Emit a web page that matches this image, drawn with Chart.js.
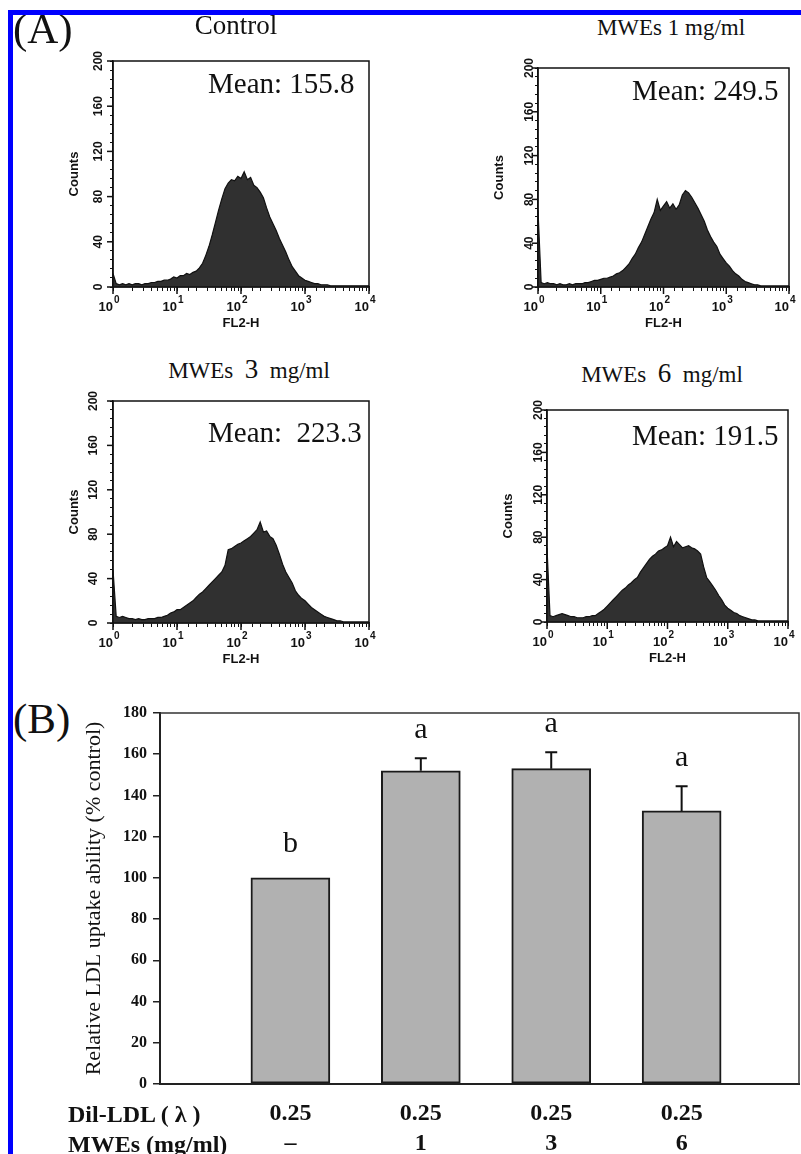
<!DOCTYPE html>
<html>
<head>
<meta charset="utf-8">
<script src="https://cdn.jsdelivr.net/npm/chart.js@4.4.1/dist/chart.umd.min.js"></script>
<style>
  html, body { margin: 0; padding: 0; background: #fff; }
  body { position: relative; width: 801px; height: 1154px; overflow: hidden; color: #111; }
  canvas { position: absolute; }
  .txt { position: absolute; white-space: pre; line-height: 1; font-family: "Liberation Serif", "Times New Roman", serif; }
  .ctr { text-align: center; }
  .bold { font-weight: bold; }
  .mask { position: absolute; left: 0; top: 0; width: 801px; height: 10px; background: #fff; z-index: 5; }
  .blue { position: absolute; background: #0000fe; z-index: 6; }
</style>
</head>
<body>
<canvas id="h0"></canvas>
<canvas id="h1"></canvas>
<canvas id="h2"></canvas>
<canvas id="h3"></canvas>
<canvas id="barB"></canvas>

<div class="txt" style="left:13px; top:7px; font-size:43px;">(A)</div>
<div class="txt" style="left:13px; top:697px; font-size:43px;">(B)</div>

<div class="txt ctr" style="left:136px; width:200px; top:12px; font-size:27px;">Control</div>
<div class="txt ctr" style="left:571px; width:200px; top:16px; font-size:23px; line-height:23px;">MWEs 1 mg/ml</div>
<div class="txt ctr" style="left:149px; width:200px; top:358px; font-size:23px; line-height:23px;">MWEs  <span style="font-size:27px;">3</span>  mg/ml</div>
<div class="txt ctr" style="left:562px; width:200px; top:362px; font-size:23px; line-height:23px;">MWEs  <span style="font-size:27px;">6</span>  mg/ml</div>

<div class="txt" id="m0" style="left:208px; top:69px; font-size:29px;"></div>
<div class="txt" id="m1" style="left:632px; top:76px; font-size:29px;"></div>
<div class="txt" id="m2" style="left:208px; top:418px; font-size:29px;"></div>
<div class="txt" id="m3" style="left:632px; top:421px; font-size:29px;"></div>

<div class="txt bold" style="left:68px; top:1102px; font-size:24px;">Dil-LDL ( λ )</div>
<div class="txt bold" style="left:68px; top:1132px; font-size:24px;">MWEs (mg/ml)</div>

<div class="mask"></div>
<div class="blue" style="left:8px; top:10px; width:793px; height:5px;"></div>
<div class="blue" style="left:8px; top:10px; width:5px; height:1144px;"></div>

<script>
// ---- panel A : flow cytometry histograms (FL2-H, log decades) ----
const fl2Decades = [
  0.00, 0.05, 0.10, 0.15, 0.20, 0.25, 0.30, 0.35, 0.40, 0.45,
  0.50, 0.55, 0.60, 0.65, 0.70, 0.75, 0.80, 0.85, 0.90, 0.95,
  1.00, 1.05, 1.10, 1.15, 1.20, 1.25, 1.30, 1.35, 1.40, 1.45,
  1.50, 1.55, 1.60, 1.65, 1.70, 1.75, 1.80, 1.85, 1.90, 1.95,
  2.00, 2.05, 2.10, 2.15, 2.20, 2.25, 2.30, 2.35, 2.40, 2.45,
  2.50, 2.55, 2.60, 2.65, 2.70, 2.75, 2.80, 2.85, 2.90, 2.95,
  3.00, 3.05, 3.10, 3.15, 3.20, 3.25, 3.30, 3.35, 3.40, 3.45,
  3.50, 3.55, 3.60, 3.65, 3.70, 3.75, 3.80, 3.85, 3.90, 3.95,
  4.00
];

const countsControl = [
  12, 3, 2, 3, 2, 3, 2, 3, 3, 2,
  3, 3, 4, 4, 5, 5, 6, 6, 7, 9,
  8, 10, 10, 12, 11, 13, 14, 17, 21, 28,
  36, 46, 57, 68, 78, 87, 92, 95, 94, 98,
  96, 102, 95, 97, 90, 88, 84, 79, 70, 62,
  56, 50, 43, 37, 31, 24, 18, 14, 10, 8,
  6, 5, 4, 3, 3, 2, 2, 2, 1, 1,
  1, 1, 1, 1, 1, 1, 1, 1, 1, 1,
  1
];

const countsMwes1 = [
  70, 4, 3, 4, 3, 3, 2, 3, 2, 2,
  3, 2, 3, 3, 3, 4, 4, 5, 6, 6,
  7, 8, 8, 9, 10, 12, 13, 15, 18, 21,
  26, 30, 36, 41, 48, 55, 62, 68, 80, 70,
  74, 78, 72, 76, 71, 75, 84, 88, 86, 82,
  77, 72, 66, 60, 52, 46, 41, 37, 30, 26,
  22, 19, 15, 12, 10, 7, 5, 4, 3, 2,
  2, 1, 1, 1, 1, 1, 1, 1, 1, 1,
  1
];

const countsMwes3 = [
  48, 6, 5, 6, 5, 4, 4, 3, 4, 3,
  3, 4, 4, 4, 5, 5, 6, 7, 9, 10,
  12, 12, 14, 16, 18, 20, 23, 26, 28, 31,
  34, 37, 40, 43, 46, 52, 66, 67, 69, 71,
  72, 74, 76, 78, 81, 84, 91, 82, 83, 78,
  76, 70, 62, 53, 46, 41, 36, 29, 25, 22,
  20, 17, 14, 12, 10, 8, 6, 5, 4, 3,
  2, 2, 1, 1, 1, 1, 1, 1, 1, 1,
  1
];

const countsMwes6 = [
  70, 6, 5, 6, 7, 8, 7, 6, 5, 5,
  4, 4, 4, 5, 5, 6, 6, 8, 10, 12,
  15, 18, 21, 24, 27, 30, 32, 35, 37, 40,
  42, 47, 51, 55, 59, 62, 64, 67, 68, 70,
  72, 80, 71, 76, 73, 70, 71, 72, 70, 69,
  67, 64, 52, 42, 38, 34, 30, 25, 21, 16,
  13, 11, 9, 8, 6, 5, 4, 3, 2, 2,
  1, 1, 1, 1, 1, 1, 1, 1, 1, 1,
  1
];

const histCounts = [countsControl, countsMwes1, countsMwes3, countsMwes6];
const histMeans = ['Mean: 155.8', 'Mean: 249.5', 'Mean:  223.3', 'Mean: 191.5'];
const countTicks = [0, 40, 80, 120, 160, 200];
const decadeExps = [0, 1, 2, 3, 4];

// ---- panel B : relative LDL uptake ----
const dilLdl = ['0.25', '0.25', '0.25', '0.25'];
const mwesDose = ['\u2013', '1', '3', '6'];
const uptake = [100, 152, 153, 132.5];
const uptakeErr = [0, 6, 8, 12];
const sigLetters = ['b', 'a', 'a', 'a'];

histMeans.forEach((t, i) => { document.getElementById('m' + i).textContent = t; });

// where each histogram's plot box sits on the page
const histBoxes = [
  { left: 113, top: 61, right: 369, bottom: 287, labelGap: 14 },
  { left: 538, top: 68, right: 789, bottom: 287, labelGap: 8 },
  { left: 113, top: 401, right: 369, bottom: 623, labelGap: 19 },
  { left: 547, top: 410, right: 788, bottom: 622, labelGap: 8 },
];

// frame, rotated count labels and 10^n labels for the histograms
const histDecor = {
  id: 'histDecor',
  afterDraw(chart, args, opts) {
    const { ctx, chartArea: a } = chart;
    const x = chart.scales.x, y = chart.scales.y;
    ctx.save();
    ctx.strokeStyle = '#111';
    ctx.lineWidth = 1.5;
    ctx.strokeRect(a.left, a.top, a.right - a.left, a.bottom - a.top);
    ctx.fillStyle = '#111';
    ctx.font = 'bold 12px "Liberation Sans"';
    ctx.textAlign = 'center';
    ctx.textBaseline = 'middle';
    countTicks.forEach((v) => {
      const py = y.getPixelForValue(v);
      ctx.beginPath();
      ctx.moveTo(a.left - 6, py);
      ctx.lineTo(a.left, py);
      ctx.stroke();
      ctx.save();
      ctx.translate(a.left - opts.labelGap, py);
      ctx.rotate(-Math.PI / 2);
      ctx.fillText(String(v), 0, 0);
      ctx.restore();
    });
    decadeExps.forEach((e) => {
      const px = x.getPixelForValue(Math.pow(10, e));
      ctx.beginPath();
      ctx.moveTo(px, a.bottom);
      ctx.lineTo(px, a.bottom + 7);
      ctx.stroke();
      ctx.textBaseline = 'alphabetic';
      ctx.font = 'bold 13px "Liberation Sans"';
      ctx.textAlign = 'right';
      ctx.fillText('10', px, a.bottom + 24);
      ctx.font = 'bold 10px "Liberation Sans"';
      ctx.textAlign = 'left';
      ctx.fillText(String(e), px + 1, a.bottom + 16);
    });
    ctx.restore();
  }
};

function makeHist(i) {
  const box = histBoxes[i];
  const padL = 53, padT = 14, padR = 16, padB = 44;
  const cv = document.getElementById('h' + i);
  cv.width = box.right - box.left + padL + padR;
  cv.height = box.bottom - box.top + padT + padB;
  cv.style.left = (box.left - padL) + 'px';
  cv.style.top = (box.top - padT) + 'px';

  new Chart(cv, {
    type: 'line',
    data: {
      datasets: [{
        data: histCounts[i].map((c, k) => ({ x: Math.pow(10, fl2Decades[k]), y: c })),
        fill: 'origin',
        backgroundColor: '#303030',
        borderColor: '#111',
        borderWidth: 1.2,
        pointRadius: 0,
        tension: 0,
      }],
    },
    options: {
      responsive: false,
      animation: false,
      events: [],
      layout: { padding: { left: 0, top: padT, right: padR, bottom: 0 } },
      plugins: {
        legend: { display: false },
        tooltip: { enabled: false },
        histDecor: { labelGap: box.labelGap },
      },
      scales: {
        x: {
          type: 'logarithmic',
          min: 1,
          max: 10000,
          grid: { drawOnChartArea: false, tickLength: 4, color: '#111', lineWidth: 1 },
          border: { color: '#111', width: 1.5 },
          ticks: { autoSkip: false, display: false },
          title: { display: true, text: 'FL2-H', color: '#111', font: { family: 'Liberation Sans', weight: 'bold', size: 13 }, padding: { top: 0, bottom: 0 } },
          afterFit: (s) => { s.height = padB; s.paddingLeft = 0; s.paddingRight = 0; },
        },
        y: {
          min: 0,
          max: 200,
          ticks: { stepSize: 8, display: false },
          grid: { drawOnChartArea: false, tickLength: 3, color: '#111', lineWidth: 1 },
          border: { color: '#111', width: 1.5 },
          title: { display: true, text: 'Counts', color: '#111', font: { family: 'Liberation Sans', weight: 'bold', size: 13 }, padding: { top: 7, bottom: 0 } },
          afterFit: (s) => { s.width = padL; s.paddingTop = 0; s.paddingBottom = 0; },
        },
      },
    },
    plugins: [histDecor],
  });
}

histCounts.forEach((c, i) => makeHist(i));

// ---- panel B ----
const barDecor = {
  id: 'barDecor',
  afterDatasetsDraw(chart) {
    const { ctx, chartArea: a } = chart;
    const x = chart.scales.x, y = chart.scales.y;
    ctx.save();
    // top and right frame
    ctx.strokeStyle = '#333';
    ctx.lineWidth = 1.5;
    ctx.beginPath();
    ctx.moveTo(a.left, a.top);
    ctx.lineTo(a.right, a.top);
    ctx.lineTo(a.right, a.bottom);
    ctx.stroke();
    // error bars (upper only)
    ctx.strokeStyle = '#111';
    ctx.lineWidth = 2;
    uptake.forEach((v, i) => {
      if (!uptakeErr[i]) return;
      const px = x.getPixelForValue(i + 1);
      const y0 = y.getPixelForValue(v);
      const y1 = y.getPixelForValue(v + uptakeErr[i]);
      ctx.beginPath();
      ctx.moveTo(px, y0);
      ctx.lineTo(px, y1);
      ctx.moveTo(px - 6, y1);
      ctx.lineTo(px + 6, y1);
      ctx.stroke();
    });
    // significance letters
    ctx.fillStyle = '#111';
    ctx.font = '30px "Liberation Serif"';
    ctx.textAlign = 'center';
    ctx.textBaseline = 'alphabetic';
    uptake.forEach((v, i) => {
      const px = x.getPixelForValue(i + 1);
      const py = y.getPixelForValue(v + uptakeErr[i]) - (uptakeErr[i] ? 20 : 26);
      ctx.fillText(sigLetters[i], px, py);
    });
    ctx.restore();
  }
};

const cvB = document.getElementById('barB');
cvB.width = 720;
cvB.height = 454;
cvB.style.left = '81px';
cvB.style.top = '700px';

new Chart(cvB, {
  type: 'bar',
  data: {
    datasets: [{
      data: uptake.map((v, i) => ({ x: i + 1, y: v })),
      backgroundColor: '#b1b1b1',
      borderColor: '#1a1a1a',
      borderWidth: 2,
      borderSkipped: false,
      barThickness: 79,
    }],
  },
  options: {
    responsive: false,
    animation: false,
    events: [],
    layout: { padding: { left: 0, top: 13, right: 2, bottom: 0 } },
    plugins: { legend: { display: false }, tooltip: { enabled: false } },
    scales: {
      x: {
        type: 'linear',
        min: 0,
        max: 4.9,
        offset: false,
        grid: { display: false, drawTicks: false },
        border: { color: '#222', width: 2 },
        afterBuildTicks: (s) => { s.ticks = uptake.map((v, i) => ({ value: i + 1 })); },
        ticks: {
          autoSkip: false,
          maxRotation: 0,
          padding: 15,
          color: '#111',
          font: { family: 'Liberation Serif', weight: 'bold', size: 24, lineHeight: '30px' },
          callback: (v) => [dilLdl[v - 1], mwesDose[v - 1]],
        },
        afterFit: (s) => { s.height = 70; s.paddingLeft = 0; s.paddingRight = 0; },
      },
      y: {
        min: 0,
        max: 180,
        ticks: { stepSize: 20, padding: 6, color: '#111', font: { family: 'Liberation Serif', weight: 'bold', size: 16 } },
        grid: { drawOnChartArea: false, tickLength: 7, color: '#222', lineWidth: 1.5 },
        border: { color: '#222', width: 2 },
        title: {
          display: true,
          text: 'Relative LDL uptake ability (% control)',
          color: '#111',
          font: { family: 'Liberation Serif', size: 22 },
          padding: { top: 0, bottom: 0 },
        },
        afterFit: (s) => { s.width = 79; s.paddingTop = 0; s.paddingBottom = 0; },
      },
    },
  },
  plugins: [barDecor],
});
</script>
</body>
</html>
